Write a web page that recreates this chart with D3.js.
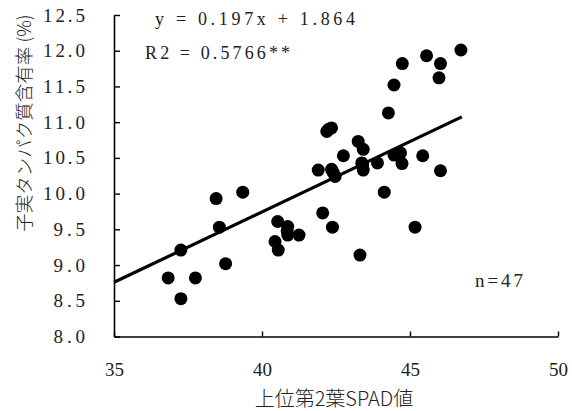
<!DOCTYPE html>
<html>
<head>
<meta charset="utf-8">
<script src="https://cdn.jsdelivr.net/npm/d3@7"></script>
<style>
  body { margin: 0; background: #fff; }
  #chart text { fill: #222; }
</style>
</head>
<body>
<div id="chart"></div>
<script>
// 上位第2葉SPAD値 (x) and 子実タンパク質含有率 (y), one entry per sample
const spad = [
    36.83, 37.26, 37.26, 37.75, 38.77, 38.56, 38.45, 39.35,
    40.53, 40.87, 40.87, 41.25, 40.44, 40.55, 42.05, 42.38,
    43.31, 42.19, 42.35, 43.25, 43.42, 42.75, 41.90, 42.35,
    42.47, 43.37, 43.42, 43.90, 44.46, 44.68, 44.73, 45.43,
    46.03, 44.13, 45.17, 44.74, 44.46, 44.27, 45.56, 46.03,
    45.98, 46.72, 42.40, 43.40, 44.60, 40.85, 42.25
];
const protein = [
    8.82, 9.21, 8.53, 8.82, 9.02, 9.53, 9.93, 10.02,
    9.61, 9.54, 9.42, 9.42, 9.33, 9.21, 9.73, 9.53,
    9.14, 10.87, 10.92, 10.73, 10.62, 10.53, 10.33, 10.34,
    10.24, 10.43, 10.33, 10.43, 10.54, 10.57, 10.42, 10.53,
    10.32, 10.02, 9.53, 11.82, 11.52, 11.13, 11.93, 11.82,
    11.62, 12.01, 10.30, 10.40, 10.55, 9.48, 10.90
];

// regression line y = 0.197x + 1.864, drawn over this x range
const fitCoef = [0.197, 1.864];
const fitRange = [35, 46.75];

const xTicks = [35, 40, 45, 50];
const yTicks = [8.0, 8.5, 9.0, 9.5, 10.0, 10.5, 11.0, 11.5, 12.0, 12.5];

const eqText = "y = 0.197x + 1.864";
const r2Text = "R2 = 0.5766**";
const nText = "n=47";
const xTitle = "上位第2葉SPAD値";
const yTitle = "子実タンパク質含有率 (%)";

const W = 572, H = 411;
const margin = { top: 15, right: 14, bottom: 74.5, left: 114 };

const svg = d3.select("#chart")
    .append("svg")
    .attr("width", W)
    .attr("height", H);

const x = d3.scaleLinear()
    .domain([xTicks[0], xTicks[xTicks.length - 1]])
    .range([margin.left, W - margin.right]);

const y = d3.scaleLinear()
    .domain([yTicks[0], yTicks[yTicks.length - 1]])
    .range([H - margin.bottom, margin.top]);

const numFont = "'Liberation Serif', 'DejaVu Serif', serif";
const jpFont = "'Noto Sans CJK JP', sans-serif";

// x axis, ticks pointing inward
const gx = svg.append("g")
    .attr("transform", `translate(0,${H - margin.bottom})`)
    .call(d3.axisBottom(x).tickValues(xTicks).tickSizeInner(-5).tickSizeOuter(0).tickPadding(26));
gx.select(".domain").attr("stroke-width", 1.6);
gx.selectAll(".tick line").attr("stroke-width", 1.4);
gx.selectAll(".tick text")
    .attr("font-family", numFont)
    .attr("font-size", 19);

// y axis
const gy = svg.append("g")
    .attr("transform", `translate(${margin.left},0)`)
    .call(d3.axisLeft(y).tickValues(yTicks).tickSizeInner(-6).tickSizeOuter(0).tickPadding(29)
        .tickFormat(d3.format(".1f")));
gy.select(".domain").attr("stroke-width", 1.6);
gy.selectAll(".tick line").attr("stroke-width", 1.4);
gy.selectAll(".tick text")
    .attr("font-family", numFont)
    .attr("font-size", 19)
    .attr("textLength", d => d3.format(".1f")(d).length * 10.5)
    .attr("lengthAdjust", "spacing");

// regression line
svg.append("line")
    .attr("x1", x(fitRange[0]))
    .attr("y1", y(fitCoef[0] * fitRange[0] + fitCoef[1]))
    .attr("x2", x(fitRange[1]))
    .attr("y2", y(fitCoef[0] * fitRange[1] + fitCoef[1]))
    .attr("stroke", "#000")
    .attr("stroke-width", 3.2);

// points
svg.selectAll(".dot")
    .data(d3.zip(spad, protein))
    .enter().append("circle")
    .attr("class", "dot")
    .attr("cx", d => x(d[0]))
    .attr("cy", d => y(d[1]))
    .attr("r", 6.5)
    .attr("fill", "#000");

// annotations
svg.append("text")
    .attr("x", 155).attr("y", 25)
    .attr("font-family", numFont).attr("font-size", 18)
    .attr("textLength", 200).attr("lengthAdjust", "spacing")
    .text(eqText);

svg.append("text")
    .attr("x", 145).attr("y", 59)
    .attr("font-family", numFont).attr("font-size", 18)
    .attr("textLength", 145).attr("lengthAdjust", "spacing")
    .text(r2Text);

svg.append("text")
    .attr("x", 475).attr("y", 287)
    .attr("font-family", numFont).attr("font-size", 19)
    .attr("textLength", 48).attr("lengthAdjust", "spacing")
    .text(nText);

// axis titles
svg.append("text")
    .attr("x", 334).attr("y", 406)
    .attr("text-anchor", "middle")
    .attr("font-family", jpFont).attr("font-size", 20)
    .attr("font-weight", 300)
    .text(xTitle);

svg.append("text")
    .attr("transform", "translate(31,123) rotate(-90)")
    .attr("text-anchor", "middle")
    .attr("font-family", jpFont).attr("font-size", 18.5)
    .attr("font-weight", 300)
    .text(yTitle);
</script>
</body>
</html>
